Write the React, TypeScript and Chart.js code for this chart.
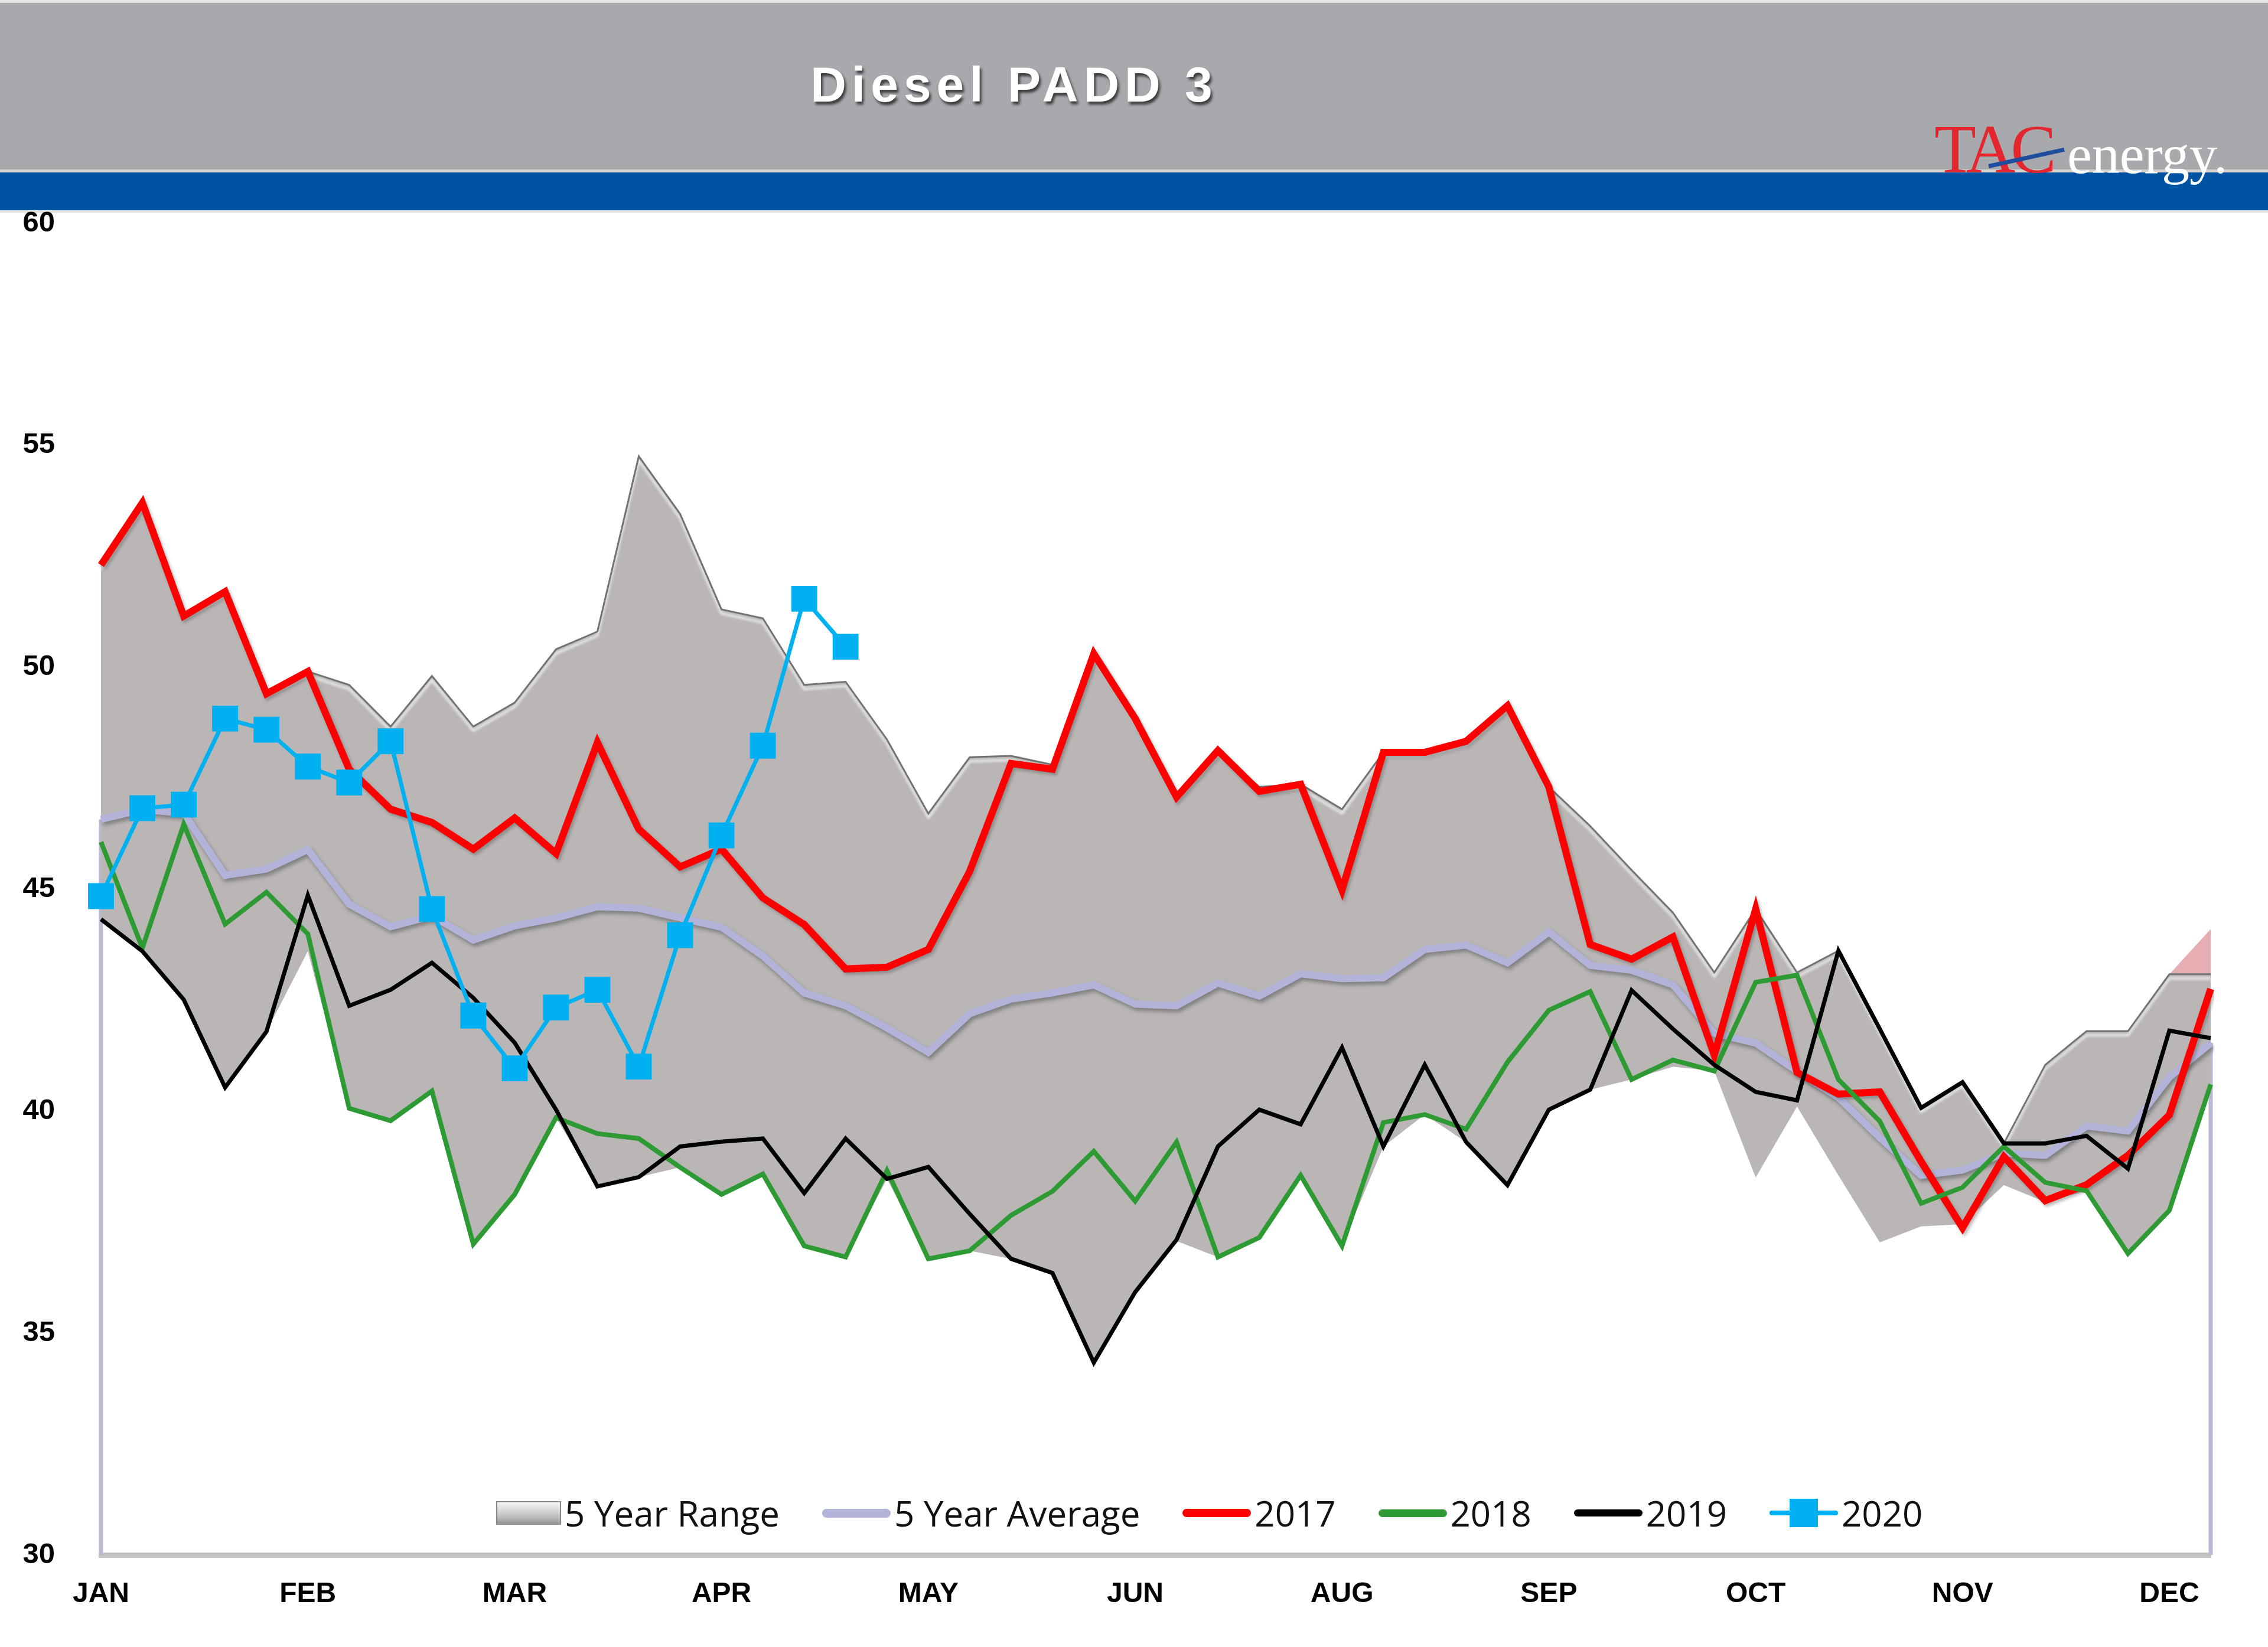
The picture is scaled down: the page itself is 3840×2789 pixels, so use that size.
import React, { useEffect, useRef } from 'react';
import { Chart, registerables } from 'chart.js';

Chart.register(...registerables);

// ---------------- DATA ----------------
const weeks: string[] = Array.from({ length: 52 }, (_, i) => `Week ${i + 1}`);
const monthTicks = ['JAN', 'FEB', 'MAR', 'APR', 'MAY', 'JUN', 'AUG', 'SEP', 'OCT', 'NOV', 'DEC'];
const monthTickEvery = 5;

const yMin = 30;
const yMax = 60;
const yStep = 5;

const seriesNames = ['5 Year Range', '5 Year Average', '2017', '2018', '2019', '2020'];

const rangeLow = [44.32, 43.6, 42.51, 40.53, 41.79, 43.6, 40.06, 39.78, 40.45, 37.0,
  38.12, 39.85, 38.3, 38.51, 38.73, 38.12, 38.58, 36.96, 36.71, 38.47,
  36.67, 36.85, 36.67, 36.35, 34.33, 35.92, 37.07, 36.71, 37.15, 38.55,
  36.96, 39.2, 39.92, 39.3, 38.33, 40.03, 40.48, 40.71, 41.0, 40.9,
  38.5, 40.1, 38.55, 37.04, 37.4, 37.45, 38.33, 37.95, 38.2, 36.79,
  37.76, 40.6];

const rangeHigh = [52.3, 53.7, 51.2, 51.7, 49.45, 49.9, 49.6, 48.66, 49.8, 48.66,
  49.2, 50.4, 50.8, 54.75, 53.45, 51.3, 51.1, 49.6, 49.67, 48.37,
  46.7, 47.97, 48.0, 47.8, 50.3, 48.84, 47.1, 48.12, 47.3, 47.36,
  46.8, 48.08, 48.08, 48.33, 49.13, 47.3, 46.42, 45.43, 44.47, 43.12,
  44.55, 43.12, 43.61, 41.85, 40.07, 40.65, 39.27, 41.04, 41.8, 41.8,
  43.08, 43.08];

// small pink overshoot of the range at the very end of the year
const rangeOverflowStart = 50;
const rangeOverflowValues = [43.08, 44.1];

const avg5 = [46.57, 46.79, 46.71, 45.31, 45.45, 45.89, 44.66, 44.15, 44.4, 43.85,
  44.17, 44.35, 44.6, 44.57, 44.35, 44.14, 43.49, 42.66, 42.37, 41.87,
  41.32, 42.19, 42.52, 42.66, 42.84, 42.41, 42.37, 42.88, 42.59, 43.09,
  42.98, 43.0, 43.64, 43.74, 43.34, 44.03, 43.28, 43.17, 42.84, 41.75,
  41.53, 40.9, 40.3, 39.4, 38.55, 38.67, 39.05, 39.0, 39.66, 39.55,
  40.76, 41.53];

const y2017 = [52.3, 53.7, 51.15, 51.7, 49.4, 49.9, 47.7, 46.8, 46.5, 45.9,
  46.6, 45.8, 48.3, 46.35, 45.5, 45.9, 44.8, 44.2, 43.2, 43.24,
  43.64, 45.4, 47.83, 47.7, 50.3, 48.84, 47.07, 48.12, 47.2, 47.36,
  44.98, 48.08, 48.08, 48.33, 49.13, 47.3, 43.75, 43.42, 43.92, 41.26,
  44.55, 40.87, 40.38, 40.43, 38.86, 37.37, 38.97, 37.98, 38.34, 39.0,
  39.91, 42.75];

const y2018 = [46.06, 43.67, 46.46, 44.21, 44.93, 43.99, 40.06, 39.78, 40.45, 37.0,
  38.12, 39.85, 39.49, 39.38, 38.73, 38.12, 38.58, 36.96, 36.71, 38.66,
  36.67, 36.85, 37.65, 38.19, 39.09, 37.97, 39.3, 36.71, 37.15, 38.55,
  36.96, 39.74, 39.92, 39.59, 41.1, 42.27, 42.69, 40.71, 41.15, 40.9,
  42.9, 43.06, 40.71, 39.77, 37.92, 38.28, 39.2, 38.39, 38.2, 36.79,
  37.76, 40.6];

const y2019 = [44.32, 43.6, 42.51, 40.53, 41.79, 44.86, 42.37, 42.73, 43.34, 42.55,
  41.54, 40.03, 38.3, 38.51, 39.2, 39.31, 39.38, 38.15, 39.38, 38.47,
  38.74, 37.68, 36.67, 36.35, 34.33, 35.92, 37.1, 39.2, 40.03, 39.7,
  41.43, 39.2, 41.04, 39.3, 38.33, 40.03, 40.48, 42.72, 41.85, 41.04,
  40.43, 40.24, 43.61, 41.85, 40.07, 40.65, 39.27, 39.27, 39.44, 38.7,
  41.81, 41.64];

const y2020 = [44.84, 46.82, 46.9, 48.84, 48.59, 47.76, 47.4, 48.33, 44.55, 42.15,
  40.96, 42.33, 42.73, 41.0, 43.96, 46.21, 48.23, 51.54, 50.46];

// ---------------- STYLES ----------------
const COLORS = {
  rangeFill: '#BAB6B6',
  rangeEdge: '#737373',
  avg: '#B3B3DA',
  y2017: '#FF0000',
  y2018: '#2E9A34',
  y2019: '#000000',
  y2020: '#00B0F0',
  overflow: 'rgba(226,160,164,0.85)',
};

const shadowPlugin = {
  id: 'datasetShadows',
  beforeDatasetDraw(chart: any, args: any) {
    const ds = chart.data.datasets[args.index];
    const s = ds && ds.shadow;
    if (!s) return;
    const ctx = chart.ctx;
    ctx.save();
    ctx.shadowColor = s.color;
    ctx.shadowBlur = s.blur;
    ctx.shadowOffsetX = s.x;
    ctx.shadowOffsetY = s.y;
  },
  afterDatasetDraw(chart: any, args: any) {
    const ds = chart.data.datasets[args.index];
    if (ds && ds.shadow) chart.ctx.restore();
  },
};

const avgEdgesPlugin = {
  id: 'avgEdges',
  beforeDatasetsDraw(chart: any) {
    const { ctx, scales } = chart;
    const x = scales.x;
    const y = scales.y;
    ctx.save();
    ctx.strokeStyle = '#B9B9D4';
    ctx.lineWidth = 7;
    const ends: [number, number][] = [[0, avg5[0]], [avg5.length - 1, avg5[avg5.length - 1]]];
    ends.forEach(([i, v]) => {
      const px = x.getPixelForValue(i);
      ctx.beginPath();
      ctx.moveTo(px, y.getPixelForValue(yMin));
      ctx.lineTo(px, y.getPixelForValue(v));
      ctx.stroke();
    });
    ctx.restore();
  },
};

function LegendIcon({ idx }: { idx: number }) {
  if (idx === 0) {
    return (
      <div style={{ width: 110, height: 40, boxSizing: 'border-box', border: '2px solid #8a8a8a',
        background: 'linear-gradient(#f6f6f6, #c9c9c9 55%, #9b9b9b)' }} />
    );
  }
  const col = [null, COLORS.avg, COLORS.y2017, COLORS.y2018, COLORS.y2019, COLORS.y2020][idx] as string;
  const thick = [0, 15, 14, 13, 12, 8][idx];
  return (
    <div style={{ width: 116, height: 48, position: 'relative' }}>
      <div style={{ position: 'absolute', left: 0, right: 0, top: 24 - thick / 2, height: thick,
        background: col, borderRadius: thick / 2 }} />
      {idx === 5 && (
        <div style={{ position: 'absolute', left: 34, top: 0, width: 48, height: 48, background: col }} />
      )}
    </div>
  );
}

export default function App() {
  const canvasRef = useRef<HTMLCanvasElement | null>(null);

  useEffect(() => {
    document.body.style.margin = '0';
    document.body.style.overflow = 'hidden';
    const canvas = canvasRef.current;
    if (!canvas) return;

    const overflowData = weeks.map((_, i) => {
      const k = i - rangeOverflowStart;
      return k >= 0 && k < rangeOverflowValues.length ? rangeOverflowValues[k] : null;
    });

    const chart = new Chart(canvas, {
      type: 'line',
      data: {
        labels: weeks,
        datasets: [
          {
            label: seriesNames[0] + ' low',
            data: rangeLow,
            borderWidth: 0,
            pointRadius: 0,
            fill: false,
            order: 10,
          } as any,
          {
            label: seriesNames[0],
            data: rangeHigh,
            borderColor: COLORS.rangeEdge,
            borderWidth: 3,
            backgroundColor: COLORS.rangeFill,
            pointRadius: 0,
            fill: 0,
            order: 10,
            shadow: { color: 'rgba(255,255,255,0.95)', blur: 4, x: 0, y: 7 },
          } as any,
          {
            label: seriesNames[0] + ' overflow',
            data: overflowData,
            borderWidth: 0,
            backgroundColor: COLORS.overflow,
            pointRadius: 0,
            fill: 1,
            order: 10,
          } as any,
          {
            label: seriesNames[1],
            data: avg5,
            borderColor: COLORS.avg,
            borderWidth: 12,
            pointRadius: 0,
            fill: false,
            order: 6,
            shadow: { color: 'rgba(60,60,60,0.45)', blur: 6, x: 3, y: 5 },
          } as any,
          {
            label: seriesNames[2],
            data: y2017,
            borderColor: COLORS.y2017,
            borderWidth: 12,
            pointRadius: 0,
            fill: false,
            order: 5,
            shadow: { color: 'rgba(60,60,60,0.35)', blur: 5, x: 3, y: 4 },
          } as any,
          {
            label: seriesNames[3],
            data: y2018,
            borderColor: COLORS.y2018,
            borderWidth: 8,
            pointRadius: 0,
            fill: false,
            order: 4,
          } as any,
          {
            label: seriesNames[4],
            data: y2019,
            borderColor: COLORS.y2019,
            borderWidth: 7,
            pointRadius: 0,
            fill: false,
            order: 3,
          } as any,
          {
            label: seriesNames[5],
            data: y2020,
            borderColor: COLORS.y2020,
            backgroundColor: COLORS.y2020,
            borderWidth: 7,
            pointStyle: 'rect',
            pointRadius: 31,
            pointBorderWidth: 0,
            fill: false,
            order: 2,
          } as any,
        ],
      },
      options: {
        animation: false,
        responsive: false,
        devicePixelRatio: 1,
        events: [],
        elements: { line: { tension: 0, borderJoinStyle: 'miter', borderCapStyle: 'butt' } },
        layout: { autoPadding: false, padding: { top: 378, left: 0, right: 97, bottom: 0 } },
        plugins: {
          legend: { display: false },
          tooltip: { enabled: false },
          title: { display: false },
        },
        scales: {
          x: {
            type: 'category',
            offset: false,
            grid: { display: false, drawTicks: false },
            border: { display: true, color: '#C4C4C4', width: 9 },
            afterFit: (s: any) => { s.height = 156; },
            ticks: {
              autoSkip: false,
              maxRotation: 0,
              minRotation: 0,
              padding: 38,
              color: '#000',
              font: { family: 'Liberation Sans', size: 48, weight: 'bold' },
              callback: (_v: any, i: number) =>
                i % monthTickEvery === 0 ? (monthTicks[i / monthTickEvery] ?? '') : '',
            },
          },
          y: {
            min: yMin,
            max: yMax,
            grid: { display: false, drawTicks: false },
            border: { display: false },
            afterFit: (s: any) => { s.width = 171; },
            ticks: {
              stepSize: yStep,
              padding: 78,
              color: '#000',
              font: { family: 'Liberation Sans', size: 49, weight: 'bold' },
            },
          },
        },
      } as any,
      plugins: [shadowPlugin, avgEdgesPlugin] as any,
    });

    return () => chart.destroy();
  }, []);

  return (
    <div style={{ position: 'absolute', left: 0, top: 0, width: 3840, height: 2789, background: '#fff', overflow: 'hidden' }}>
      {/* banner */}
      <div style={{ position: 'absolute', left: 0, top: 0, width: 3840, height: 5, background: '#E6E6E8' }} />
      <div style={{ position: 'absolute', left: 0, top: 5, width: 3840, height: 282, background: '#A8A9AD' }} />
      <div style={{ position: 'absolute', left: 0, top: 287, width: 3840, height: 5, background: '#D6D2CD' }} />
      <div style={{ position: 'absolute', left: 0, top: 292, width: 3840, height: 64, background: '#0053A3' }} />
      <div style={{ position: 'absolute', left: 0, top: 356, width: 3840, height: 4, background: '#E4E0DA' }} />
      <div style={{ position: 'absolute', left: 1717, top: 101, transform: 'translateX(-50%)', whiteSpace: 'nowrap',
        fontFamily: 'Liberation Sans, Arial, sans-serif', fontWeight: 'bold', fontSize: 84, lineHeight: '84px',
        letterSpacing: 9, color: '#fff', textShadow: '3px 5px 4px rgba(0,0,0,0.65)' }}>
        Diesel PADD 3
      </div>
      {/* logo */}
      <div style={{ position: 'absolute', left: 3275, top: 195, whiteSpace: 'nowrap', fontFamily: 'Liberation Serif, serif',
        fontSize: 116, lineHeight: '116px', letterSpacing: -8, color: '#E5262E' }}>TAC</div>
      <div style={{ position: 'absolute', left: 3367, top: 278, width: 131, height: 7, background: '#1F4F9C',
        transformOrigin: '0 50%', transform: 'rotate(-12.4deg)' }} />
      <div style={{ position: 'absolute', left: 3500, top: 214, whiteSpace: 'nowrap', fontFamily: 'Liberation Serif, serif',
        fontSize: 94, lineHeight: '94px', color: '#fff' }}>energy.</div>

      <canvas ref={canvasRef} width={3840} height={2789}
        style={{ position: 'absolute', left: 0, top: 0, width: 3840, height: 2789 }} />

      {/* legend */}
      <div style={{ position: 'absolute', left: 840, top: 2522, height: 80, display: 'flex', alignItems: 'center',
        fontFamily: 'Open Sans, sans-serif', fontSize: 60, color: '#111', whiteSpace: 'nowrap' }}>
        {seriesNames.map((name, idx) => (
          <div key={name} style={{ display: 'flex', alignItems: 'center', marginRight: 72 }}>
            <LegendIcon idx={idx} />
            <span style={{ marginLeft: 6 }}>{name}</span>
          </div>
        ))}
      </div>
    </div>
  );
}
